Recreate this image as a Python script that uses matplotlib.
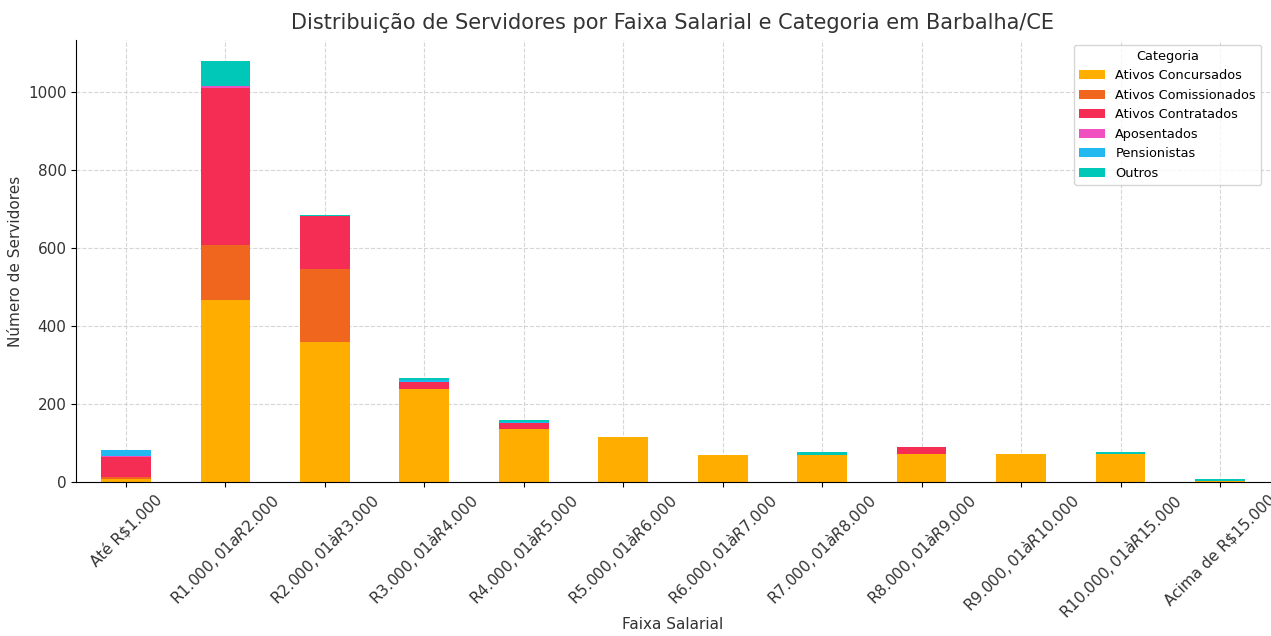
import pandas as pd
import matplotlib
matplotlib.use("Agg")
import matplotlib.pyplot as plt

faixas = [
    "Até R$1.000",
    "R$1.000,01 a R$2.000",
    "R$2.000,01 à R$3.000",
    "R$3.000,01 à R$4.000",
    "R$4.000,01 à R$5.000",
    "R$5.000,01 à R$6.000",
    "R$6.000,01 à R$7.000",
    "R$7.000,01 à R$8.000",
    "R$8.000,01 à R$9.000",
    "R$9.000,01 à R$10.000",
    "R$10.000,01 à R$15.000",
    "Acima de R$15.000",
]

ativos_concursados = [8, 468, 360, 238, 135, 115, 70, 69, 73, 71, 73, 4]
ativos_comissionados = [4, 141, 187, 0, 2, 0, 0, 0, 0, 0, 0, 0]
ativos_contratados = [52, 402, 136, 20, 14, 0, 0, 0, 16, 0, 0, 0]
aposentados = [2, 4, 0, 0, 0, 0, 0, 0, 0, 0, 0, 0]
pensionistas = [16, 0, 0, 3, 2, 0, 0, 0, 0, 0, 0, 0]
outros = [0, 66, 3, 6, 6, 0, 0, 7, 0, 0, 3, 3]

cores = ["#FFAE00", "#F0661E", "#F52D55", "#F050C0", "#22B8F0", "#00C8B8"]

df = pd.DataFrame({
    "Ativos Concursados": ativos_concursados,
    "Ativos Comissionados": ativos_comissionados,
    "Ativos Contratados": ativos_contratados,
    "Aposentados": aposentados,
    "Pensionistas": pensionistas,
    "Outros": outros,
}, index=faixas)

fig, ax = plt.subplots(figsize=(12.71, 6.36), dpi=100)
df.plot(kind="bar", stacked=True, ax=ax, color=cores, width=0.5, zorder=2)

ax.set_title("Distribuição de Servidores por Faixa Salarial e Categoria em Barbalha/CE",
             fontsize=15, color="#333333", pad=8)
ax.set_xlabel("Faixa Salarial", fontsize=11, color="#333333")
ax.set_ylabel("Número de Servidores", fontsize=11, color="#333333")
ax.set_xticklabels(faixas, rotation=45, ha="center", fontsize=11, color="#333333")
ax.tick_params(axis="y", labelsize=11, labelcolor="#333333")
ax.set_ylim(0, 1134)
ax.grid(True, linestyle="--", color="#cccccc", alpha=0.8, zorder=0)
ax.set_axisbelow(True)
ax.spines["top"].set_visible(False)
ax.spines["right"].set_visible(False)
ax.xaxis.set_label_coords(0.5, -0.305)
ax.yaxis.set_label_coords(-0.045, 0.5)

leg = ax.legend(title="Categoria", loc="upper right", fontsize=9.3, title_fontsize=9.3,
                bbox_to_anchor=(0.995, 0.995), borderaxespad=0.2)

fig.subplots_adjust(left=0.06, right=0.999, top=0.937, bottom=0.242)
fig.savefig("out.png", dpi=100)
